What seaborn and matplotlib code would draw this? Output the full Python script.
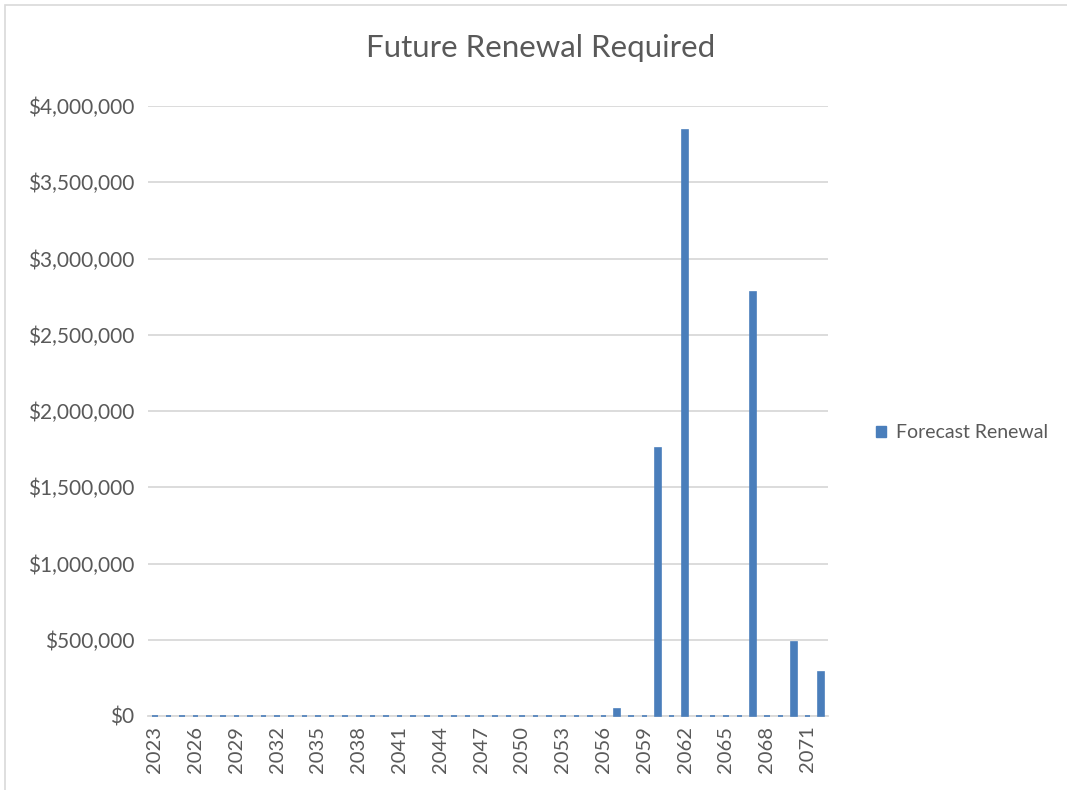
import matplotlib
matplotlib.use("Agg")
import matplotlib.pyplot as plt
import seaborn as sns
import numpy as np
import pandas as pd
from matplotlib.patches import Patch, Rectangle
from matplotlib.ticker import FuncFormatter, MultipleLocator

# 数据准备
years = list(range(2023, 2073))
renewal = [0] * len(years)
spikes = {2057: 45000, 2060: 1760000, 2062: 3840000, 2067: 2780000,
          2070: 485000, 2072: 290000}
for yr, v in spikes.items():
    renewal[years.index(yr)] = v

df = pd.DataFrame({"year": [str(y) for y in years], "value": renewal})

sns.set_style("white")
plt.rcParams["font.family"] = ["Lato", "DejaVu Sans"]

bar_color = "#4A7EBB"
text_color = "#595959"

fig = plt.figure(figsize=(10.67, 7.9), dpi=100)
ax = fig.add_axes([148 / 1067, 1 - 716 / 790, 680 / 1067, 610 / 790])

sns.barplot(data=df, x="year", y="value", color=bar_color, width=0.42,
            edgecolor=bar_color, linewidth=1.2, saturation=1, ax=ax)
# 零值柱子画成基线上的小短线
for p in ax.patches:
    p.set_clip_on(False)
    p.set_zorder(5)

ax.set_ylim(0, 4000000)
ax.set_xlim(-0.5, len(years) - 0.5)
ax.yaxis.set_major_locator(MultipleLocator(500000))
ax.yaxis.set_major_formatter(FuncFormatter(lambda v, p: "${:,.0f}".format(v)))
ax.grid(axis="y", color="#D9D9D9", linewidth=1.3)
ax.set_axisbelow(True)

ax.set_xticks(range(0, len(years), 3))
ax.set_xticklabels([str(y) for y in years[::3]], rotation=90)
ax.tick_params(axis="x", length=0, pad=7, labelsize=14.5, colors=text_color)
ax.tick_params(axis="y", length=0, pad=10, labelsize=15, colors=text_color)
ax.set_xlabel("")
ax.set_ylabel("")
for s in ["top", "right", "left"]:
    ax.spines[s].set_visible(False)
ax.spines["bottom"].set_color("#D9D9D9")
ax.spines["bottom"].set_linewidth(1.3)
ax.spines["bottom"].set_zorder(1)

fig.text(541 / 1067, 1 - 48 / 790, "Future Renewal Required", ha="center",
         va="center", fontsize=22.5, color=text_color)

fig.legend(handles=[Patch(color=bar_color, label="Forecast Renewal")],
           loc="center left", bbox_to_anchor=(858 / 1067, 1 - 433 / 790),
           frameon=False, fontsize=14, labelcolor=text_color,
           handlelength=0.55, handleheight=0.55, handletextpad=0.5)

# 外框
fig.patches.append(Rectangle((5 / 1067, -0.01), 1.2, 1 - 5 / 790 + 0.01,
                             transform=fig.transFigure, fill=False,
                             edgecolor="#D9D9D9", linewidth=1.2))

fig.savefig("out.png", dpi=100)
